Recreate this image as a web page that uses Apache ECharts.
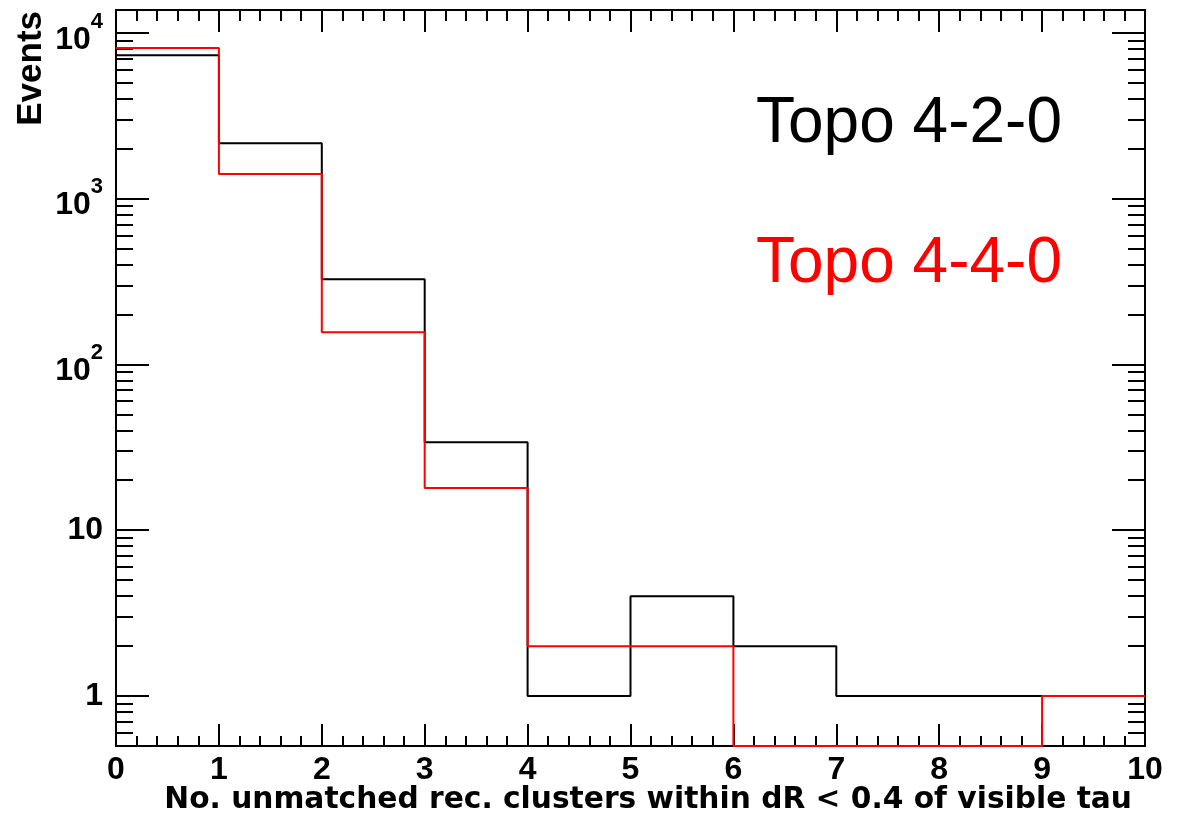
<!DOCTYPE html>
<html>
<head>
<meta charset="utf-8">
<script src="https://cdn.jsdelivr.net/npm/echarts@6/dist/echarts.min.js"></script>
<style>
html,body{margin:0;padding:0;background:#fff;}
#chart{width:1177px;height:825px;}
</style>
</head>
<body>
<div id="chart"></div>
<script>
// ---- data ----
const binEdges = [0, 1, 2, 3, 4, 5, 6, 7, 8, 9, 10];
const seriesNames = ['Topo 4-2-0', 'Topo 4-4-0'];
const seriesColors = ['#000000', '#ff0000'];
const topo420 = [7350, 2170, 327, 34, 1, 4, 2, 1, 1, 1];
const topo440 = [8130, 1412, 157, 18, 2, 2, 0, 0, 0, 1];
const xTickLabels = ['0', '1', '2', '3', '4', '5', '6', '7', '8', '9', '10'];
const yMajorTicks = [1, 10, 100, 1000, 10000];
const yMinorTicks = [0.6, 0.7, 0.8, 0.9,
  2, 3, 4, 5, 6, 7, 8, 9,
  20, 30, 40, 50, 60, 70, 80, 90,
  200, 300, 400, 500, 600, 700, 800, 900,
  2000, 3000, 4000, 5000, 6000, 7000, 8000, 9000];
const xTitle = 'No. unmatched rec. clusters within dR < 0.4 of visible tau';
const yTitle = 'Events';
const yMin = 0.5, yMax = 13800;

const FONT = "'Liberation Sans', Arial, Helvetica, sans-serif";
const TITLE_FONT = "'DejaVu Sans', 'Liberation Sans', Arial, sans-serif";

function stepData(values) {
  // zero bins are drawn at the axis floor (as ROOT does on a log scale)
  const pts = values.map((v, i) => [binEdges[i], v > 0 ? v : yMin]);
  const last = values[values.length - 1];
  pts.push([binEdges[binEdges.length - 1], last > 0 ? last : yMin]);
  return pts;
}

const tickData = yMajorTicks.map(v => [0, v, 1]).concat(yMinorTicks.map(v => [0, v, 0]));

function yLabel(v) {
  const e = Math.log10(v);
  const r = Math.round(e);
  if (Math.abs(e - r) > 1e-6) return '';
  if (r === 0) return '{b|1}';
  if (r === 1) return '{b|10}';
  return '{b|10}{s|' + r + '}';
}

const chart = echarts.init(document.getElementById('chart'), null, {renderer: 'canvas'});

const option = {
  animation: false,
  backgroundColor: '#ffffff',
  grid: {
    left: 116, right: 32, top: 10, bottom: 79,
    show: true, borderColor: '#000', borderWidth: 2, backgroundColor: 'transparent'
  },
  xAxis: [{
    type: 'value', min: 0, max: 10, interval: 1, position: 'bottom',
    axisLine: {show: true, onZero: false, lineStyle: {color: '#000', width: 2}},
    axisTick: {show: true, inside: true, length: 22, lineStyle: {color: '#000', width: 2}},
    minorTick: {show: true, splitNumber: 5, length: 10, lineStyle: {color: '#000', width: 2}},
    splitLine: {show: false},
    axisLabel: {
      show: true, margin: 8, color: '#000', fontSize: 32, fontWeight: 'bold', fontFamily: FONT,
      formatter: v => xTickLabels[binEdges.indexOf(v)] ?? ''
    },
    name: xTitle, nameLocation: 'end', nameGap: -13, nameMoveOverlap: false,
    nameTextStyle: {
      color: '#000', fontSize: 29.7, fontWeight: 'bold', fontFamily: TITLE_FONT,
      align: 'right', verticalAlign: 'top', padding: [39, 0, 0, 0]
    }
  }, {
    type: 'value', min: 0, max: 10, interval: 1, position: 'top',
    axisLine: {show: true, onZero: false, lineStyle: {color: '#000', width: 2}},
    axisTick: {show: true, inside: true, length: 22, lineStyle: {color: '#000', width: 2}},
    minorTick: {show: true, splitNumber: 5, length: 11, lineStyle: {color: '#000', width: 2}},
    splitLine: {show: false},
    axisLabel: {show: false}
  }],
  yAxis: [{
    type: 'log', logBase: 10, min: yMin, max: yMax, position: 'left',
    axisLine: {show: true, onZero: false, lineStyle: {color: '#000', width: 2}},
    axisTick: {show: false},
    minorTick: {show: false},
    splitLine: {show: false},
    axisLabel: {
      show: true, margin: 13, align: 'right', color: '#000', fontFamily: FONT,
      showMinLabel: false, showMaxLabel: false,
      formatter: yLabel,
      rich: {
        b: {fontSize: 32, fontWeight: 'bold', fontFamily: FONT, color: '#000', lineHeight: 32, verticalAlign: 'bottom'},
        s: {fontSize: 22, fontWeight: 'bold', fontFamily: FONT, color: '#000', lineHeight: 45, verticalAlign: 'top'}
      }
    },
    name: yTitle, nameLocation: 'end', nameGap: -1, nameRotate: 90, nameMoveOverlap: false,
    nameTextStyle: {
      color: '#000', fontSize: 35, fontWeight: 'bold', fontFamily: FONT,
      align: 'right', verticalAlign: 'bottom', padding: [0, 0, 67, 0]
    }
  }],
  series: [{
    type: 'custom', name: 'yticks', silent: true, z: 5,
    xAxisIndex: 0, yAxisIndex: 0,
    encode: {x: 0, y: 1},
    data: tickData,
    renderItem: function (params, api) {
      const v = api.value(1);
      const len = api.value(2) ? 33 : 17;
      const pL = api.coord([binEdges[0], v]);
      const pR = api.coord([binEdges[binEdges.length - 1], v]);
      const y = Math.round(pL[1]);
      return {
        type: 'group',
        children: [
          {type: 'line', shape: {x1: pL[0], y1: y, x2: pL[0] + len, y2: y}, style: {stroke: '#000', lineWidth: 2}},
          {type: 'line', shape: {x1: pR[0] - len, y1: y, x2: pR[0], y2: y}, style: {stroke: '#000', lineWidth: 2}}
        ]
      };
    }
  }, {
    type: 'line', name: seriesNames[0], step: 'end', showSymbol: false, symbol: 'none',
    clip: false, z: 6,
    data: stepData(topo420),
    lineStyle: {color: seriesColors[0], width: 2},
    itemStyle: {color: seriesColors[0]}
  }, {
    type: 'line', name: seriesNames[1], step: 'end', showSymbol: false, symbol: 'none',
    clip: false, z: 7,
    data: stepData(topo440),
    lineStyle: {color: seriesColors[1], width: 2},
    itemStyle: {color: seriesColors[1]}
  }],
  graphic: seriesNames.map((n, i) => ({
    type: 'text', left: 756, top: 92 + i * 140,
    style: {text: n, fill: seriesColors[i], fontSize: 64, fontFamily: FONT, fontWeight: 'normal'}
  }))
};
chart.setOption(option);
</script>
</body>
</html>
